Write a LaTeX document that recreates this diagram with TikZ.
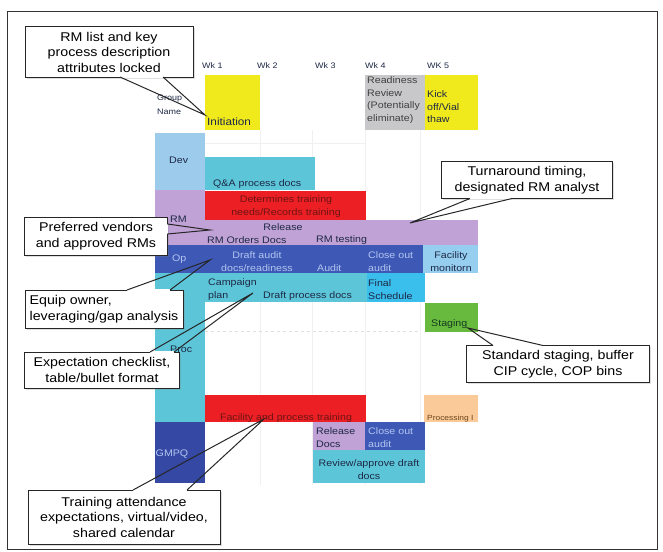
\documentclass[tikz,border=0pt]{standalone}
\usepackage{fontspec}
\setmainfont{Liberation Sans}[FakeStretch=1.12]
\usepackage{xcolor}
\usetikzlibrary{shadows}

\definecolor{gyellow}{RGB}{240,233,28}
\definecolor{ggray}{RGB}{200,200,202}
\definecolor{gdev}{RGB}{156,203,236}
\definecolor{gcyan}{RGB}{92,198,216}
\definecolor{gred}{RGB}{236,32,36}
\definecolor{gpurple}{RGB}{192,162,214}
\definecolor{gnavy}{RGB}{62,88,182}
\definecolor{gdeep}{RGB}{52,72,164}
\definecolor{gsky}{RGB}{150,206,240}
\definecolor{gbright}{RGB}{58,190,236}
\definecolor{ggreen}{RGB}{104,186,62}
\definecolor{gpeach}{RGB}{250,202,152}
\definecolor{tdark}{RGB}{30,40,70}
\definecolor{tlight}{RGB}{178,198,240}
\definecolor{tred}{RGB}{110,20,20}
\definecolor{tgreen}{RGB}{20,60,30}
\definecolor{tbrown}{RGB}{110,70,30}

\newcommand{\ganttfont}{\fontsize{9.5}{13}\selectfont}
\newcommand{\notefont}{\fontsize{12.7}{15.5}\selectfont}
\newcommand{\pointer}[3]{%
  \draw[gap] (#1)--(#2);
  \draw[ptr] (#1)--(#3)--(#2);}

\tikzset{
  bar/.style={anchor=north west,inner sep=0pt,outer sep=0pt},
  lbl/.style={inner sep=0pt,font=\ganttfont,text=tdark,align=left},
  note/.style={draw=black!85,line width=1pt,fill=white,inner sep=0pt,outer sep=0pt,font=\notefont,align=center,
    drop shadow={opacity=0.25,shadow xshift=1.5pt,shadow yshift=-1.5pt}},
  ptr/.style={draw=black!85,line width=1pt,line join=miter},
  gap/.style={draw=white,line width=1.8pt}
}

\begin{document}
\begin{tikzpicture}[x=1pt,y=-1pt]
\path[use as bounding box] (0,0) rectangle (663,551);
\draw[black!80,line width=1pt] (7,12) rectangle (657,549);
\foreach \x in {260,312,365,420}
  \draw[gray!12] (\x,130)--(\x,485);
\draw[gray!12] (205,143)--(365,143);
\draw[gray!25,dashed] (205,331)--(420,331);

\foreach \n/\xa/\ya/\xb/\yb/\c in {init/205/75/260/130/gyellow,ready/365/75/425/130/ggray,
    kick/425/75/478/130/gyellow,dev/155/133/205/190/gdev,qa/205/157/315/190/gcyan,
    rmcol/155/190/205/245/gpurple,rmband/205/220/478/245/gpurple,needs/205/191/366/220/gred,
    op/155/245/423/273/gnavy,facmon/423/245/478/273/gsky,proccol/155/273/205/423/gcyan,
    procband/205/273/367/302/gcyan,finsch/367/273/425/302/gbright,staging/425/303/478/332/ggreen,
    train/205/395/366/422/gred,procI/424/395/478/422/gpeach,gmpq/155/422/205/483/gdeep,
    reldocs/313/422/365/450/gpurple,closeout/365/422/425/450/gnavy,review/313/450/425/483/gcyan}
  \node[bar,fill=\c,minimum width={(\xb-\xa)*1pt},minimum height={(\yb-\ya)*1pt}] (\n) at (\xa,\ya) {};

\foreach \x/\t [count=\i] in {202/Wk 1,257/Wk 2,315/Wk 3,365/Wk 4,427/WK 5}
  \node[lbl,anchor=west,font=\fontsize{8}{10}\selectfont] (wk\i) at (\x,66) {\t};
\node[lbl,anchor=west,font=\fontsize{8}{14}\selectfont] (grpname) at (157,105) {Group\\Name};
\node[lbl,anchor=west,font=\fontsize{10.5}{13}\selectfont] (initlbl) at (207,122) {Initiation};
\node[lbl,anchor=west,font=\fontsize{9.5}{12.5}\selectfont,text=black!75] (readylbl) at (367,100) {Readiness\\Review\\(Potentially\\eliminate)};
\node[lbl,anchor=west,font=\fontsize{9.5}{12.5}\selectfont] (kicklbl) at (427,107) {Kick\\off/Vial\\thaw};
\node[lbl,anchor=west] (devlbl) at (169,160) {Dev};
\node[lbl,anchor=west] (qalbl) at (213,184) {Q\&A process docs};
\node[lbl,text=tred,align=center] (needslbl) at (286,207) {Determines training\\needs/Records training};
\node[lbl,anchor=west] (rmlbl) at (170,219) {RM};
\node[lbl] (rellbl) at (283,227) {Release};
\node[lbl,anchor=west] (orderlbl) at (207,240) {RM Orders Docs};
\node[lbl,anchor=west] (testlbl) at (316,240) {RM testing};
\node[lbl,anchor=west,text=tlight] (oplbl) at (172,259) {Op};
\node[lbl,text=tlight,align=center] (draftlbl) at (257,262) {Draft audit\\docs/readiness};
\node[lbl,anchor=west,text=tlight] (auditlbl) at (317,268) {Audit};
\node[lbl,anchor=west,text=tlight] (closelbl) at (368,262) {Close out\\audit};
\node[lbl,align=center] (monlbl) at (451,262) {Facility\\monitorn};
\node[lbl,anchor=west] (camplbl) at (208,290) {Campaign\\plan};
\node[lbl,anchor=west] (dpdlbl) at (263,296) {Draft process docs};
\node[lbl,anchor=west] (finlbl) at (368,290) {Final\\Schedule};
\node[lbl,anchor=west,text=tgreen] (stglbl) at (431,324) {Staging};
\node[lbl,anchor=west] (proclbl) at (170,349) {Proc};
\node[lbl,text=tred] (trainlbl) at (286,418) {Facility and process training};
\node[lbl,anchor=west,text=tbrown,font=\fontsize{7.5}{9}\selectfont] (pilbl) at (427,419) {Processing I};
\node[lbl,text=tlight] (gmpqlbl) at (172,454) {GMPQ};
\node[lbl,anchor=west] (rel2lbl) at (316,438) {Release\\Docs};
\node[lbl,anchor=west,text=tlight] (close2lbl) at (368,438) {Close out\\audit};
\node[lbl,align=center] (revlbl) at (369,470) {Review/approve draft\\docs};

\coordinate (tip1) at (205,115);
\coordinate (tip2) at (410,223);
\coordinate (tip3) at (210,230);
\coordinate (tip4) at (210,260);
\coordinate (tip5) at (253,293);
\coordinate (tip6) at (468,328);
\coordinate (tip7) at (264,419);

\node[note,minimum width=168pt,minimum height=50pt] (rmlist) at (109,52) {RM list and key\\process description\\attributes locked};
\node[note,minimum width=171pt,minimum height=37pt] (turnaround) at (527,180) {Turnaround timing,\\designated RM analyst};
\node[note,minimum width=143pt,minimum height=38pt] (vendors) at (96,236) {Preferred vendors\\and approved RMs};
\node[note,minimum width=158pt,minimum height=38pt,align=left] (equip) at (104,309) {Equip owner,\\leveraging/gap analysis};
\node[note,minimum width=155pt,minimum height=36pt] (checklist) at (102,370) {Expectation checklist,\\table/bullet format};
\node[note,minimum width=183pt,minimum height=37pt] (stagingnote) at (558,364) {Standard staging, buffer\\CIP cycle, COP bins};
\node[note,minimum width=192pt,minimum height=54pt] (attendance) at (124,517) {Training attendance\\expectations, virtual/video,\\shared calendar};

\pointer{[xshift=11pt]rmlist.south}{[xshift=54pt]rmlist.south}{tip1}
\pointer{[xshift=-57pt]turnaround.south}{[xshift=-15pt]turnaround.south}{tip2}
\pointer{[yshift=12pt]vendors.east}{[yshift=2pt]vendors.east}{tip3}
\pointer{[xshift=23pt]equip.north}{[xshift=66pt]equip.north}{tip4}
\pointer{[xshift=48pt]checklist.north}{[xshift=72pt]checklist.north}{tip5}
\pointer{[xshift=-65pt]stagingnote.north}{[xshift=-15pt]stagingnote.north}{tip6}
\pointer{[xshift=9pt]attendance.north}{[xshift=63pt]attendance.north}{tip7}
\end{tikzpicture}
\end{document}
